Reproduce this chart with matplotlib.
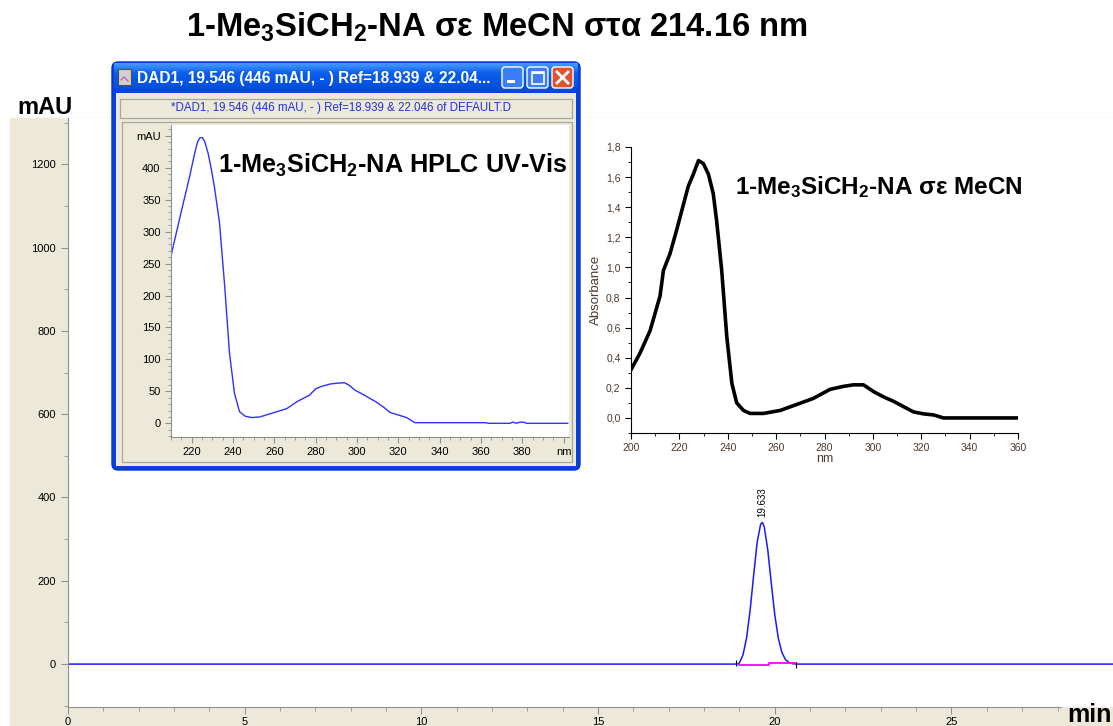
import numpy as np
import matplotlib
matplotlib.use('Agg')
import matplotlib.pyplot as plt
from matplotlib.patches import Rectangle, FancyBboxPatch
from matplotlib.colors import LinearSegmentedColormap
from matplotlib.ticker import FuncFormatter, MultipleLocator

plt.rcParams['font.family'] = ['Liberation Sans', 'DejaVu Sans']
plt.rcParams['mathtext.fontset'] = 'custom'
plt.rcParams['mathtext.rm'] = 'Liberation Sans:bold'
plt.rcParams['mathtext.it'] = 'Liberation Sans:bold'
plt.rcParams['mathtext.bf'] = 'Liberation Sans:bold'

# chromatogram (min, mAU)
chrom_t = [0, 18.95, 19.0, 19.1, 19.2, 19.3, 19.4, 19.5, 19.6, 19.65, 19.7, 19.8,
           19.9, 20.0, 20.1, 20.2, 20.3, 20.4, 20.5, 20.6, 29.6]
chrom_mau = [0, 0, 3, 22, 62, 128, 212, 292, 336, 340, 330, 275,
             195, 118, 62, 28, 11, 4, 1, 0, 0]
base_t = [19.0, 19.85, 19.85, 20.6]
base_mau = [-1, -1, 2, 2]
event_t = [18.9, 20.6]
peak_rt = 19.633
peak_label = '19.633'

# DAD spectrum in HPLC window (nm, mAU)
dad_nm = [210, 214, 219, 221.5, 222.8, 224, 225.2, 226.3, 228, 229.5, 231, 233.5, 236,
          238.3, 240.7, 243.2, 246, 249, 253, 259, 266, 271, 277, 280, 283, 287,
          291, 294, 296, 299, 303, 309, 313, 316, 320, 324, 328, 340, 362, 364,
          374, 375.5, 377, 379, 381, 382, 402]
dad_mau = [262, 318, 386, 423, 440, 447, 447, 441, 422, 398, 370, 313, 214,
           110, 47, 18, 11, 9, 10, 16, 23, 34, 44, 54, 58, 61.5,
           63, 63.5, 60, 52, 45, 34, 25, 17, 13, 9, 1, 1, 1, 0,
           0, 2, 0, 2, 1.5, 0, 0]

# UV-Vis spectrum in MeCN (nm, absorbance)
uv_nm = [200, 203.7, 207.9, 212, 213.4, 216.1, 218.9, 221.7, 223.7, 225.8, 227.9,
         229.9, 232, 234, 235.4, 237.5, 239.6, 241.7, 243.7, 246.5, 249.2, 254.8,
         261.7, 268.6, 275.4, 282.3, 287.9, 292, 296.1, 300.3, 304.4, 308.6,
         312.7, 316.8, 321, 325.1, 329.2, 360]
uv_abs = [0.32, 0.43, 0.58, 0.81, 0.98, 1.09, 1.25, 1.42, 1.54, 1.62, 1.71,
          1.69, 1.62, 1.49, 1.31, 0.98, 0.54, 0.23, 0.10, 0.05, 0.03, 0.03,
          0.05, 0.09, 0.13, 0.19, 0.21, 0.22, 0.22, 0.175, 0.14, 0.11,
          0.075, 0.04, 0.027, 0.02, 0.0, 0.0]

title = r'1-Me$_3$SiCH$_2$-NA σε MeCN στα 214.16 nm'
hplc_title = r'1-Me$_3$SiCH$_2$-NA HPLC UV-Vis'
uv_title = r'1-Me$_3$SiCH$_2$-NA σε MeCN'
win_title = 'DAD1, 19.546 (446 mAU, - ) Ref=18.939 & 22.04...'
win_sub = '*DAD1, 19.546 (446 mAU, - ) Ref=18.939 & 22.046 of DEFAULT.D'

W, H = 1113, 726
fig = plt.figure(figsize=(W / 100, H / 100), dpi=100)


def box(x0, y0, x1, y1):
    return [x0 / W, 1 - y1 / H, (x1 - x0) / W, (y1 - y0) / H]


beige = '#ECE9D8'
fig.patches.append(Rectangle((10 / W, 0), 1 - 10 / W, 1 - 118 / H,
                             transform=fig.transFigure, color=beige, zorder=-5))

# main chromatogram
ax = fig.add_axes(box(68, 118, 1113, 707))
ax.set_zorder(0)
ax.set_facecolor('white')
ax.plot(chrom_t, chrom_mau, color='#1a1aff', lw=1.1)
ax.plot(base_t, base_mau, color='#ff00ff', lw=1.3)
ax.plot(event_t, [3, -3], ls='none', marker='|', ms=5, color='black', mew=0.8)
ax.text(peak_rt, 352, peak_label, rotation=90, ha='center', va='bottom', fontsize=7)
ax.set_xlim(0, 29.57)
ax.set_ylim(-103, 1311)
ax.set_xticks([0, 5, 10, 15, 20, 25])
ax.set_xticks([m for m in range(1, 29) if m % 5], minor=True)
ax.set_yticks(range(0, 1201, 200))
ax.set_yticks(range(-100, 1301, 200), minor=True)
for s in ['top', 'right']:
    ax.spines[s].set_visible(False)
for s in ['left', 'bottom']:
    ax.spines[s].set_color('#909090')
ax.spines['bottom'].set_bounds(0, 28.1)
ax.tick_params(which='both', colors='#909090', labelcolor='black', labelsize=8)
ax.tick_params(which='major', length=5)
ax.tick_params(which='minor', length=3)
ax.tick_params(axis='x', pad=2)

# overlay for window chrome and labels (pixel coordinates)
ov = fig.add_axes([0, 0, 1, 1])
ov.set_zorder(1)
ov.set_xlim(0, W)
ov.set_ylim(H, 0)
ov.axis('off')
ov.patch.set_alpha(0)

fig.text(497 / W, 1 - 27 / H, title, fontsize=23.6, fontweight='bold', ha='center', va='center')
ov.text(45, 108, 'mAU', fontsize=17, fontweight='bold', ha='center', va='center')
ov.text(1089, 715, 'min', fontsize=18, fontweight='bold', ha='center', va='center')

# window frame
ov.add_patch(FancyBboxPatch((112, 62), 468, 408, boxstyle='round,pad=0,rounding_size=6',
                            fc='#0842D6', ec='#0831D9', lw=1))
grad = LinearSegmentedColormap.from_list('xp', ['#4A9BFF', '#0A5FEA', '#0554E6', '#0347D0'])
ov.imshow(np.linspace(0, 1, 64).reshape(-1, 1), cmap=grad, aspect='auto',
          extent=(114, 578, 93, 63), zorder=2)
ov.add_patch(Rectangle((116, 93), 460, 373, fc=beige, ec='none', zorder=3))
ov.add_patch(Rectangle((120, 99), 452, 19, fc=beige, ec='#A8A8A0', lw=0.9, zorder=4))
ov.add_patch(Rectangle((122, 122), 450, 340, fc=beige, ec='#A8A8A0', lw=0.9, zorder=4))
ov.text(137, 78, win_title, color='white', fontsize=11.2, fontweight='bold',
        ha='left', va='center', zorder=5)
ov.text(341, 108.5, win_sub, color='#2030E0', fontsize=8.3, ha='center', va='center', zorder=5)
# icon
ov.add_patch(Rectangle((118, 69), 13, 16, fc='#D0D0D0', ec='#505050', lw=0.8, zorder=5))
ov.plot([121, 124, 128], [80, 77, 81], color='#E040C0', lw=0.8, zorder=6)
# buttons
for bx, fc in [(502, '#3C7EF8'), (527, '#3C7EF8'), (552, '#E2512E')]:
    ov.add_patch(FancyBboxPatch((bx, 67), 21, 21, boxstyle='round,pad=0,rounding_size=3',
                                fc=fc, ec='white', lw=1, zorder=5))
ov.add_patch(Rectangle((507, 80), 8, 3, fc='white', ec='none', zorder=6))
ov.add_patch(Rectangle((531.5, 71.5), 12, 12, fc='none', ec='white', lw=1.2, zorder=6))
ov.add_patch(Rectangle((531.5, 71.5), 12, 2.5, fc='white', ec='none', zorder=6))
ov.plot([557, 568], [72, 83], color='white', lw=2, zorder=6)
ov.plot([557, 568], [83, 72], color='white', lw=2, zorder=6)

# HPLC DAD spectrum inset
ax1 = fig.add_axes(box(171, 125, 569, 437))
ax1.set_zorder(2)
ax1.set_facecolor('white')
ax1.plot(dad_nm, dad_mau, color='#3030ff', lw=1)
ax1.set_xlim(210, 402.6)
ax1.set_ylim(-21.4, 466.8)
ax1.set_xticks(list(range(220, 401, 20)))
ax1.set_xticklabels([str(v) for v in range(220, 381, 20)] + ['nm'])
ax1.xaxis.set_minor_locator(MultipleLocator(5))
ax1.set_yticks(list(range(0, 451, 50)))
ax1.set_yticklabels([str(v) for v in range(0, 401, 50)] + ['mAU'])
ax1.yaxis.set_minor_locator(MultipleLocator(10))
for s in ['top', 'right']:
    ax1.spines[s].set_visible(False)
for s in ['left', 'bottom']:
    ax1.spines[s].set_color('#909090')
ax1.tick_params(which='both', colors='#909090', labelcolor='black', labelsize=8)
ax1.tick_params(which='major', length=4)
ax1.tick_params(which='minor', length=2.5)
ax1.text(218, 165, hplc_title, transform=ov.transData, fontsize=18.2,
         fontweight='bold', ha='left', va='center')

# UV-Vis spectrum inset
ax2 = fig.add_axes(box(631, 147, 1018, 433))
ax2.set_zorder(2)
ax2.patch.set_alpha(0)
ax2.plot(uv_nm, uv_abs, color='black', lw=2.6)
ax2.set_xlim(200, 360)
ax2.set_ylim(-0.1, 1.8)
ax2.set_xticks(range(200, 361, 20))
ax2.xaxis.set_minor_locator(MultipleLocator(10))
ax2.set_yticks(np.arange(0, 1.81, 0.2))
ax2.yaxis.set_minor_locator(MultipleLocator(0.1))
ax2.yaxis.set_major_formatter(FuncFormatter(lambda v, p: f'{v:.1f}'.replace('.', ',')))
for s in ['top', 'right']:
    ax2.spines[s].set_visible(False)
ax2.tick_params(which='both', direction='out', labelsize=7.5, labelcolor='#4a3a30')
ax2.tick_params(which='major', length=4)
ax2.tick_params(which='minor', length=2)
ax2.set_xlabel('nm', fontsize=9, labelpad=0, color='#4a3a30')
ax2.set_ylabel('Absorbance', fontsize=9.5, labelpad=3, color='#4a3a30')
ax2.text(735, 187, uv_title, transform=ov.transData, fontsize=17.5,
         fontweight='bold', ha='left', va='center')

fig.savefig('out.png', dpi=100)
